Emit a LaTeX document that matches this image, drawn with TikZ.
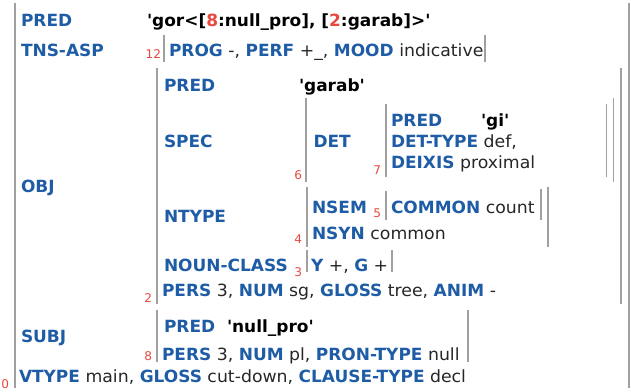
\documentclass[tikz,border=0pt]{standalone}
\usepackage{fontspec}
\newfontfamily\fsf{DejaVu Sans}[FakeStretch=1.01]
\newfontfamily\fsr{DejaVu Sans}[FakeStretch=1.03]
\definecolor{attrblue}{HTML}{1F5CA6}
\definecolor{valblack}{HTML}{262626}
\definecolor{lblred}{HTML}{E8483E}
\definecolor{brgray}{HTML}{A0A0A0}
\newcommand{\attrb}[1]{{\fsf\bfseries\color{attrblue}#1}}
\newcommand{\predv}[1]{{\fsf\bfseries\color{black}#1}}
\newcommand{\sqt}{\textquotesingle}
\tikzset{
  txt/.style={anchor=base west, inner sep=0pt, outer sep=0pt, font=\fsr\fontsize{16.8}{20}\selectfont, text=valblack},
  lbl/.style={anchor=base east, inner sep=0pt, outer sep=0pt, font=\fsf\fontsize{12}{14}\selectfont, text=lblred},
  fbar/.style={draw=brgray, line width=1.5pt}
}
\begin{document}
\begin{tikzpicture}[x=1pt,y=-1pt]
\useasboundingbox (0,0) rectangle (631,391);
% outer f-structure 0
\draw[fbar] (15,3) -- (15,388);
\draw[fbar] (629,3) -- (629,388);
\node[txt] (pred0) at (21,26) {\attrb{PRED}};
\node[txt] (predval0) at (147,26) {\predv{\sqt gor<[\textcolor{lblred}{8}:null\_pro], [\textcolor{lblred}{2}:garab]>\sqt}};
\node[txt] (tns) at (21,56) {\attrb{TNS-ASP}};
\node[lbl] (l12) at (161,58) {12};
\draw[fbar] (164,35) -- (164,62);
\draw[fbar] (485,35) -- (485,62);
\node[txt] (tnsval) at (169,56) {\attrb{PROG} -, \attrb{PERF} +\_, \attrb{MOOD} indicative};
\node[txt] (obj) at (21,192) {\attrb{OBJ}};
% OBJ f-structure 2
\draw[fbar] (157,68) -- (157,304);
\draw[fbar] (621,68) -- (621,304);
\node[lbl] (l2) at (152,302) {2};
\node[txt] (pred2) at (164,91) {\attrb{PRED}};
\node[txt] (predval2) at (299,91) {\predv{\sqt garab\sqt}};
\node[txt] (spec) at (164,147) {\attrb{SPEC}};
% SPEC f-structure 6
\draw[fbar] (306,98) -- (306,182);
\draw[fbar] (613.5,98) -- (613.5,182);
\node[lbl] (l6) at (302,179) {6};
\node[txt] (det) at (313.5,147) {\attrb{DET}};
% DET f-structure 7
\draw[fbar] (386,104) -- (386,177);
\draw[fbar] (606.5,104) -- (606.5,177);
\node[lbl] (l7) at (381,174) {7};
\node[txt] (pred7) at (391,126) {\attrb{PRED}};
\node[txt] (predval7) at (481,126) {\predv{\sqt gi\sqt}};
\node[txt] (dettype) at (391,147) {\attrb{DET-TYPE} def,};
\node[txt] (deixis) at (391,168) {\attrb{DEIXIS} proximal};
\node[txt] (ntype) at (164,222) {\attrb{NTYPE}};
% NTYPE f-structure 4
\draw[fbar] (307,187) -- (307,247);
\draw[fbar] (548,187) -- (548,247);
\node[lbl] (l4) at (302,243) {4};
\node[txt] (nsem) at (312,213) {\attrb{NSEM}};
% NSEM f-structure 5
\draw[fbar] (386,191) -- (386,220);
\draw[fbar] (541,189) -- (541,220);
\node[lbl] (l5) at (381,217) {5};
\node[txt] (common) at (391,213) {\attrb{COMMON} count};
\node[txt] (nsyn) at (312,239) {\attrb{NSYN} common};
\node[txt] (nclass) at (164,271) {\attrb{NOUN-CLASS}};
% NOUN-CLASS f-structure 3
\draw[fbar] (307,250) -- (307,272);
\draw[fbar] (392,250) -- (392,272);
\node[lbl] (l3) at (302,276) {3};
\node[txt] (ncval) at (311,271) {\attrb{Y} +, \attrb{G} +};
\node[txt] (pers2) at (162,296) {\attrb{PERS} 3, \attrb{NUM} sg, \attrb{GLOSS} tree, \attrb{ANIM} -};
\node[txt] (subj) at (21,342) {\attrb{SUBJ}};
% SUBJ f-structure 8
\draw[fbar] (157,310) -- (157,362);
\draw[fbar] (468,310) -- (468,362);
\node[lbl] (l8) at (152,360) {8};
\node[txt] (pred8) at (164,332) {\attrb{PRED}};
\node[txt] (predval8) at (227,332) {\predv{\sqt null\_pro\sqt}};
\node[txt] (pers8) at (162,360) {\attrb{PERS} 3, \attrb{NUM} pl, \attrb{PRON-TYPE} null};
\node[lbl] (l0) at (9,388) {0};
\node[txt] (vtype) at (19,382) {\attrb{VTYPE} main, \attrb{GLOSS} cut-down, \attrb{CLAUSE-TYPE} decl};
\end{tikzpicture}
\end{document}
